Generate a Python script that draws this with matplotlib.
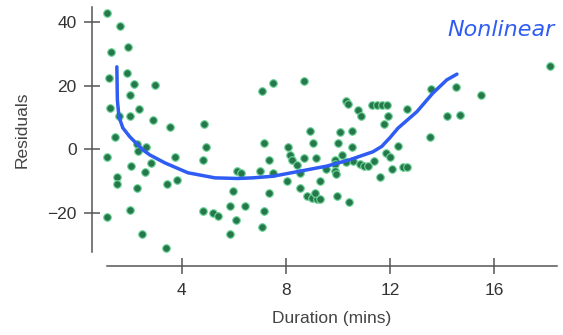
import matplotlib
matplotlib.use("Agg")
import matplotlib.pyplot as plt

# Scatter data: Duration (mins) vs Residuals
duration = [1.13, 1.62, 1.26, 1.94, 1.21, 1.88, 2.15, 2.95, 2.00, 1.23,
            2.37, 2.00, 1.57, 2.90, 3.53, 4.87, 1.42, 2.27, 2.63, 2.32,
            4.92, 1.14, 3.74, 4.81, 2.06, 2.83, 2.57, 6.13, 6.28, 1.50,
            1.51, 3.80, 3.42, 2.26, 5.97, 5.84, 6.42, 1.99, 4.82, 5.20,
            5.39, 1.14, 6.10, 2.48, 5.87, 3.38,
            7.10, 7.51, 8.70, 10.33, 10.40, 10.79, 10.89, 11.31, 11.50, 11.69,
            11.88, 11.93, 11.77, 8.92, 10.08, 10.56, 7.15, 9.05, 10.01, 8.08,
            10.56, 7.35, 8.15, 8.23, 8.70, 9.17, 10.17, 9.88, 9.88, 11.87,
            12.00, 12.32, 7.00, 7.52, 8.42, 8.54, 9.55, 9.88, 9.92, 10.59,
            10.85, 11.00, 11.17, 11.38, 12.07, 12.51, 12.64, 11.62, 8.06, 9.30,
            8.53, 7.37, 8.80, 8.99, 9.18, 9.31, 9.12, 9.95, 10.42, 7.16,
            7.10,
            12.67, 13.57, 14.54, 15.50, 14.18, 14.69, 18.15, 13.54, 10.31]
residuals = [42.7, 38.7, 30.5, 32.2, 22.3, 24.0, 20.5, 20.2, 17.0, 13.1,
             12.6, 10.5, 10.5, 9.1, 7.1, 7.8, 3.9, 1.6, 0.6, -0.5,
             0.8, -2.6, -2.4, -3.5, -5.2, -4.4, -7.1, -6.7, -7.5, -8.7,
             -10.8, -9.6, -10.9, -12.2, -13.2, -18.0, -18.0, -19.2, -19.5, -20.2,
             -21.1, -21.3, -22.1, -26.6, -26.6, -30.9,
             18.3, 20.9, 21.3, 15.2, 14.2, 12.3, 10.5, 13.9, 13.9, 13.9,
             13.9, 10.5, 7.8, 5.7, 5.3, 5.6, 2.1, 2.1, 2.1, 0.6,
             0.6, -3.5, -1.7, -3.3, -2.9, -2.9, -1.7, -3.5, -4.5, -1.2,
             -2.4, 0.9, -7.0, -7.5, -5.0, -7.4, -6.3, -6.7, -7.9, -3.8,
             -4.6, -5.2, -5.3, -3.8, -6.2, -5.5, -5.6, -8.8, -10.1, -10.1,
             -12.3, -13.9, -14.8, -15.3, -15.5, -15.8, -13.7, -14.7, -16.6, -19.3,
             -24.5,
             12.6, 18.9, 19.6, 17.1, 10.5, 10.9, 26.2, 3.9, -4.1]

# Hand-drawn annotation curve (in data coordinates)
curve_x = [1.50, 1.52, 1.58, 1.73, 2.00, 2.50, 2.77, 3.35, 4.23, 5.27, 6.15,
           6.73, 7.50, 8.54, 9.58, 10.46, 11.35, 11.69, 12.00, 12.31, 13.04,
           13.65, 14.19, 14.58]
curve_y = [25.9, 15.5, 10.2, 6.7, 3.9, -0.2, -1.8, -4.3, -7.4, -9.0, -9.2,
           -9.0, -8.5, -6.9, -5.3, -3.3, -0.8, 0.9, 3.6, 6.6, 11.8,
           17.6, 21.8, 23.6]

xticks = [4, 8, 12, 16]
yticks = [-20, 0, 20, 40]
ytick_labels = ["\u221220", "0", "20", "40"]

plt.rcParams['font.family'] = ['Liberation Sans', 'DejaVu Sans']

fig = plt.figure(figsize=(5.63, 3.35), dpi=100)
ax = fig.add_axes([0.190, 0.2478, 0.799, 0.7313])

ax.scatter(duration, residuals, s=30, facecolor='#26784b', edgecolor='#6fd69a',
           linewidth=0.8, zorder=3, clip_on=False)
ax.plot(curve_x, curve_y, color='#2f5cf2', linewidth=2.5, solid_capstyle='round',
        solid_joinstyle='round', zorder=4)

ax.set_xlim(1.12, 18.42)
ax.set_ylim(-32.3, 44.7)
ax.set_xticks(xticks)
ax.set_yticks(yticks)
ax.set_yticklabels(ytick_labels)

for side in ['top', 'right']:
    ax.spines[side].set_visible(False)
ax.spines['left'].set_position(('outward', 10.8))
ax.spines['bottom'].set_position(('outward', 10))
for side in ['left', 'bottom']:
    ax.spines[side].set_color('#555555')
    ax.spines[side].set_linewidth(1.1)

ax.tick_params(axis='both', direction='inout', length=11, width=1.1,
               color='#555555', labelcolor='#333333', labelsize=12.5)
ax.tick_params(axis='y', pad=5.5)
ax.tick_params(axis='x', pad=7)

ax.set_xlabel("Duration (mins)", fontsize=12.5, color='#444444', labelpad=9)
ax.set_ylabel("Residuals", fontsize=12.5, color='#444444', labelpad=13)

fig.text(0.794, 0.91, "Nonlinear", color='#2f5cf2', fontsize=16,
         style='italic', ha='left', va='center', family=['DejaVu Sans'])

fig.savefig("out.png", dpi=100, facecolor='white')
